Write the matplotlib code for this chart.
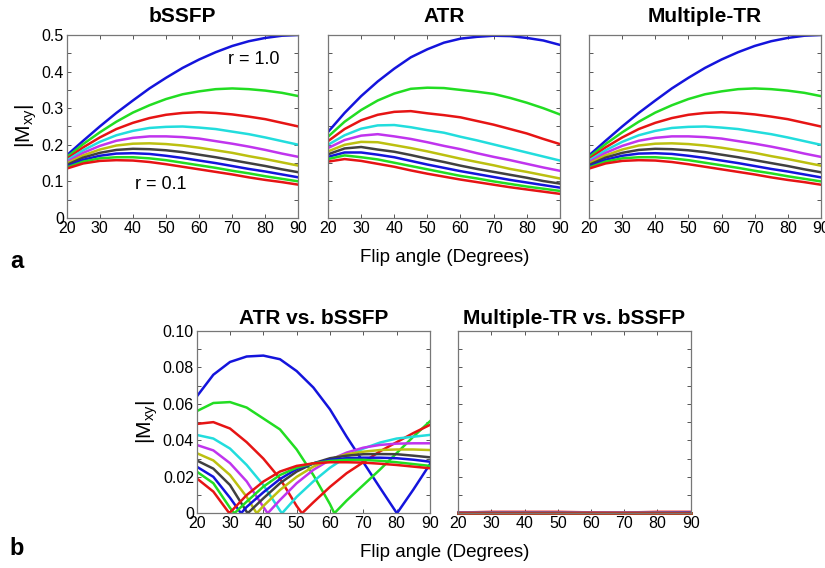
import numpy as np
import matplotlib
matplotlib.use('Agg')
import matplotlib.pyplot as plt

plt.rcParams['font.family'] = ['Liberation Sans', 'DejaVu Sans']
plt.rcParams['mathtext.fontset'] = 'custom'
plt.rcParams['mathtext.rm'] = 'Liberation Sans'

# flip angles (degrees)
angles = [20, 25, 30, 35, 40, 45, 50, 55, 60, 65, 70, 75, 80, 85, 90]

# curve colours, r = 1.0 (top) ... r = 0.1 (bottom)
colors = ['#1414dc', '#22dd22', '#e61414', '#22dddd', '#c034ee',
          '#bcc010', '#404040', '#1414dc', '#22dd22', '#e61414']

# |Mxy| for bSSFP, one row per r
bssfp = [
    [.171, .211, .250, .287, .321, .354, .383, .410, .433, .453, .470, .483, .492, .498, .500],
    [.166, .202, .234, .263, .288, .308, .325, .338, .346, .352, .354, .352, .348, .342, .333],
    [.161, .193, .220, .243, .260, .273, .282, .287, .289, .287, .283, .277, .270, .260, .250],
    [.157, .185, .208, .226, .238, .246, .249, .250, .247, .243, .236, .229, .220, .210, .200],
    [.153, .178, .197, .211, .219, .223, .223, .221, .217, .210, .203, .195, .186, .176, .167],
    [.149, .171, .187, .198, .203, .204, .202, .198, .192, .185, .178, .169, .161, .152, .143],
    [.145, .165, .178, .186, .189, .188, .185, .180, .173, .166, .158, .150, .142, .133, .125],
    [.141, .159, .170, .176, .177, .175, .170, .164, .157, .150, .142, .134, .127, .119, .111],
    [.138, .154, .163, .166, .166, .163, .158, .151, .144, .137, .129, .122, .114, .107, .100],
    [.135, .149, .156, .158, .157, .153, .147, .140, .133, .126, .119, .111, .104, .098, .091],
]

# |Mxy| for ATR
atr = [
    [.235, .287, .333, .373, .408, .439, .461, .479, .490, .495, .498, .497, .492, .485, .473],
    [.222, .263, .295, .321, .340, .353, .356, .355, .350, .345, .339, .328, .315, .300, .283],
    [.210, .243, .267, .282, .290, .292, .286, .281, .275, .265, .255, .243, .231, .216, .202],
    [.200, .226, .244, .253, .254, .248, .240, .233, .222, .212, .201, .190, .179, .168, .157],
    [.191, .213, .225, .229, .223, .216, .207, .197, .188, .177, .167, .158, .148, .138, .129],
    [.182, .200, .208, .207, .199, .191, .182, .172, .162, .153, .144, .134, .126, .117, .108],
    [.174, .190, .194, .187, .181, .172, .162, .153, .143, .134, .126, .118, .110, .101, .094],
    [.167, .179, .179, .173, .166, .156, .146, .137, .128, .120, .112, .104, .097, .090, .083],
    [.161, .171, .166, .160, .151, .142, .133, .124, .115, .108, .100, .093, .086, .080, .074],
    [.154, .161, .156, .148, .140, .130, .121, .113, .105, .098, .091, .084, .078, .072, .066],
]

# Multiple-TR curves coincide with bSSFP
multitr = bssfp

# |ATR - bSSFP| and the angle where each curve touches zero
atr_diff = [
    [.0640, .0760, .0830, .0860, .0865, .0845, .0780, .0690, .0570, .0420, .0280, .0140, .0002, .0130, .0270],
    [.0560, .0605, .0610, .0580, .0520, .0460, .0350, .0210, .0050, .0070, .0155, .0240, .0330, .0420, .0505],
    [.0490, .0500, .0465, .0390, .0300, .0190, .0040, .0060, .0145, .0220, .0280, .0340, .0390, .0440, .0485],
    [.0430, .0410, .0355, .0265, .0155, .0015, .0090, .0175, .0250, .0310, .0355, .0388, .0410, .0420, .0430],
    [.0375, .0345, .0275, .0175, .0035, .0073, .0165, .0238, .0293, .0333, .0360, .0375, .0382, .0384, .0384],
    [.0330, .0290, .0210, .0090, .0040, .0128, .0200, .0256, .0296, .0324, .0338, .0347, .0350, .0350, .0347],
    [.0290, .0245, .0155, .0008, .0082, .0165, .0229, .0274, .0302, .0316, .0324, .0325, .0324, .0316, .0307],
    [.0256, .0200, .0085, .0035, .0115, .0188, .0243, .0274, .0293, .0302, .0305, .0305, .0302, .0294, .0283],
    [.0229, .0165, .0030, .0064, .0146, .0210, .0250, .0274, .0287, .0293, .0293, .0288, .0280, .0270, .0260],
    [.0192, .0119, .0004, .0100, .0174, .0229, .0260, .0274, .0280, .0280, .0278, .0272, .0265, .0256, .0247],
]
zero_at = [80.1, 61.3, 51.6, 45.6, 41.3, 38.0, 35.3, 33.3, 31.3, 29.8]

# |Multiple-TR - bSSFP|, sampled every 10 degrees
angles_10 = [20, 30, 40, 50, 60, 70, 80, 90]
mtr_diff = [
    [.0004, .0004, .0003, .0003, .0003, .0003, .0004, .0005],
    [.0002, .0002, .0002, .0002, .0002, .0002, .0002, .0002],
    [.0004, .0008, .0008, .0008, .0005, .0004, .0008, .0008],
    [.0003, .0003, .0003, .0003, .0003, .0003, .0003, .0003],
    [.0003, .0004, .0004, .0004, .0003, .0003, .0004, .0004],
    [.0002, .0003, .0003, .0003, .0002, .0002, .0003, .0003],
    [.0002, .0002, .0002, .0002, .0002, .0002, .0002, .0002],
    [.0001, .0002, .0002, .0002, .0001, .0001, .0002, .0003],
    [.0000, .0000, .0000, .0000, .0000, .0000, .0000, .0000],
    [.0001, .0001, .0001, .0001, .0001, .0001, .0001, .0001],
]

ylabel = r'|M$_{\mathregular{xy}}$|'


def style(ax, ymax, ystep, labelstep, show_y):
    ax.set_xlim(20, 90)
    ax.set_ylim(0, ymax)
    ax.set_xticks(range(20, 91, 10))
    yt = np.arange(0, ymax + ystep / 2, ystep)
    ax.set_yticks(yt)
    if show_y:
        labs = []
        for i, v in enumerate(yt):
            if i % labelstep:
                labs.append('')
            elif v == 0:
                labs.append('0')
            elif ymax < 0.2:
                labs.append('%.2f' % v)
            else:
                labs.append('%.1f' % v)
        ax.set_yticklabels(labs)
    else:
        ax.set_yticklabels([])
    ax.tick_params(direction='in', top=True, right=True, length=3, width=0.7,
                   color='#555555', labelsize=11.5, pad=2)
    for s in ax.spines.values():
        s.set_color('#777777')
        s.set_linewidth(0.9)


fig = plt.figure(figsize=(8.25, 5.68), dpi=100)

top_left = [0.0808, 0.3976, 0.714]
top_data = [bssfp, atr, multitr]
top_titles = ['bSSFP', 'ATR', 'Multiple-TR']
for k in range(3):
    ax = fig.add_axes([top_left[k], 0.6162, 0.281, 0.3222])
    for i in range(10):
        ax.plot(angles, top_data[k][i], color=colors[i], lw=1.8)
    style(ax, 0.5, 0.05, 2, k == 0)
    ax.set_title(top_titles[k], fontsize=15, fontweight='bold', pad=9.5)
    if k == 0:
        ax.set_ylabel(ylabel, fontsize=15, labelpad=2)
        ax.text(76.6, 0.433, 'r = 1.0', fontsize=13, ha='center', va='center')
        ax.text(48.3, 0.092, 'r = 0.1', fontsize=13, ha='center', va='center')

# bottom row
ax = fig.add_axes([0.2384, 0.0963, 0.2828, 0.321])
for i in range(10):
    pts = sorted(zip(angles + [zero_at[i]], atr_diff[i] + [0.0]))
    ax.plot([p[0] for p in pts], [p[1] for p in pts], color=colors[i], lw=1.8)
style(ax, 0.1, 0.01, 2, True)
ax.set_title('ATR vs. bSSFP', fontsize=15, fontweight='bold', pad=5)
ax.set_ylabel(ylabel, fontsize=15, labelpad=2)

ax = fig.add_axes([0.5555, 0.0963, 0.2817, 0.321])
for i in range(10):
    ax.plot(angles_10, mtr_diff[i], color=colors[i], lw=1.8, clip_on=False)
style(ax, 0.1, 0.01, 2, False)
ax.set_title('Multiple-TR vs. bSSFP', fontsize=15, fontweight='bold', pad=5)

fig.text(0.539, 0.547, 'Flip angle (Degrees)', fontsize=13.5, ha='center', va='center')
fig.text(0.539, 0.028, 'Flip angle (Degrees)', fontsize=13.5, ha='center', va='center')
fig.text(0.012, 0.54, 'a', fontsize=17, fontweight='bold', va='center')
fig.text(0.012, 0.035, 'b', fontsize=17, fontweight='bold', va='center')

fig.savefig('out.png', dpi=100)
